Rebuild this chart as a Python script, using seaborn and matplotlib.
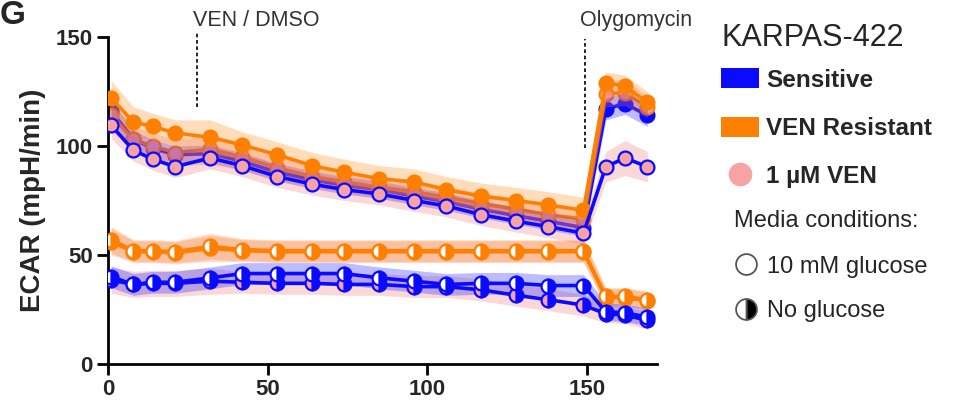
# ECAR trace, KARPAS-422 sensitive vs VEN resistant

import matplotlib
matplotlib.use("Agg")
import matplotlib.pyplot as plt
import seaborn as sns
from matplotlib.patches import Patch
from matplotlib.lines import Line2D

# Measurement times (min)
time_min = [1, 8, 14, 21, 32, 42, 53, 64, 74, 85, 96, 106, 117, 128, 138, 149, 156, 162, 169]

# 10 mM glucose
res_glc = [122, 111, 109, 106, 104, 100.5, 96, 91, 88, 85, 83.5, 80, 77, 75, 73, 70.5, 129, 127.5, 120]
res_glc_err = [8, 7, 6, 6, 8, 6, 6, 6, 6, 6, 6, 6, 6, 6, 6, 6, 5, 5, 5]
res_glc_ven = [114, 103, 100, 97, 98.5, 95, 90, 86, 83.5, 81, 79, 76.5, 73.5, 71, 68.5, 66.5, 124, 124.5, 118]
res_glc_ven_err = [7, 6, 6, 6, 7, 6, 6, 5, 5, 5, 5, 5, 5, 5, 5, 5, 6, 6, 5]
sens_glc = [116, 103, 99, 96, 96.5, 93, 88, 84.5, 82, 80, 77, 74.5, 71, 68, 65.5, 62.5, 117, 119.5, 114]
sens_glc_err = [5, 4, 4, 4, 4, 4, 4, 4, 4, 4, 4, 4, 4, 4, 4, 4, 5, 5, 5]
sens_glc_ven = [109.5, 98, 94, 90.5, 94.5, 91, 86, 82.5, 80, 78, 75, 72.5, 68.5, 65.5, 63, 60, 90.5, 94.5, 90.5]
sens_glc_ven_err = [6, 5, 5, 5, 5, 5, 5, 5, 5, 5, 5, 5, 5, 5, 5, 5, 7, 8, 7]

# No glucose
res_noglc = [57, 52, 52, 51.5, 54, 52.5, 52, 52, 52, 52, 52, 52, 52, 52, 52, 52, 31, 31, 29.5]
res_noglc_err = [6, 5, 5, 5, 6, 5, 5, 5, 5, 5, 5, 5, 5, 5, 5, 5, 4, 4, 4]
res_noglc_ven = [56, 51.5, 51.5, 51, 53, 52, 51.5, 51.5, 51.5, 51.5, 51.5, 51.5, 51.5, 51.5, 51.5, 51.5, 30.5, 30.5, 29]
res_noglc_ven_err = [6, 5, 5, 5, 6, 5, 5, 5, 5, 5, 5, 5, 5, 5, 5, 5, 4, 4, 4]
sens_noglc = [40, 36.5, 37.5, 37.5, 39.5, 41.5, 41.5, 41.5, 41.5, 39.5, 38, 36.5, 37, 37, 36, 36, 24, 23.5, 21.5]
sens_noglc_err = [5, 5, 5, 5, 5, 5, 5, 5, 5, 5, 5, 5, 5, 5, 5, 5, 4, 4, 4]
sens_noglc_ven = [38.5, 36.5, 37, 37, 38, 37.5, 37, 37, 36.5, 36.5, 35.5, 35.5, 34, 31.5, 29.5, 27, 23, 22.5, 20]
sens_noglc_ven_err = [6, 6, 6, 6, 6, 5, 5, 5, 5, 5, 5, 5, 5, 5, 5, 5, 4, 4, 4]

# Injections
inject_times = [28, 149.5]
inject_labels = ["VEN / DMSO", "Olygomycin"]

cell_labels = ["Sensitive", "VEN Resistant", "1 µM VEN"]
media_labels = ["10 mM glucose", "No glucose"]

BLUE = "#0a0aff"
ORANGE = "#ff8000"
PINK = "#f7a3a3"
VEN_BAND = "#f07070"

sns.set_theme(style="ticks")
plt.rcParams['font.family'] = ['Liberation Sans', 'DejaVu Sans']

fig = plt.figure(figsize=(9.58, 4.09), dpi=100)
ax = fig.add_axes([0.1127, 0.110, 0.573, 0.7995])

# (values, err, cell colour, VEN treated, glucose, line zorder)
series = [
    (res_noglc_ven, res_noglc_ven_err, ORANGE, True, False, 3),
    (res_noglc, res_noglc_err, ORANGE, False, False, 3.1),
    (sens_noglc_ven, sens_noglc_ven_err, BLUE, True, False, 3.2),
    (sens_noglc, sens_noglc_err, BLUE, False, False, 3.3),
    (sens_glc, sens_glc_err, BLUE, False, True, 1.5),
    (res_glc_ven, res_glc_ven_err, ORANGE, True, True, 1.6),
    (res_glc, res_glc_err, ORANGE, False, True, 3.4),
    (sens_glc_ven, sens_glc_ven_err, BLUE, True, True, 3.5),
]

for vals, err, col, ven, glc, z in series:
    lo = [v - e for v, e in zip(vals, err)]
    hi = [v + e for v, e in zip(vals, err)]
    band = VEN_BAND if ven else col
    ax.fill_between(time_min, lo, hi, color=band, alpha=0.27, lw=0, zorder=2)

for vals, err, col, ven, glc, z in series:
    face = PINK if ven else col
    if glc:
        sns.lineplot(x=time_min, y=vals, ax=ax, color=col, lw=2.6, marker='o',
                     markersize=10, markerfacecolor=face, markeredgecolor=col,
                     markeredgewidth=1.6, errorbar=None, zorder=z)
    else:
        sns.lineplot(x=time_min, y=vals, ax=ax, color=col, lw=2.6, marker='o',
                     markersize=10, fillstyle='right', markerfacecolor=col,
                     markerfacecoloralt=PINK if ven else 'white', markeredgecolor=col,
                     markeredgewidth=1.6, errorbar=None, zorder=z)

# Injection markers
line_spans = [(118, 152), (99, 149)]
for t, lab, (y0, y1) in zip(inject_times, inject_labels, line_spans):
    ax.plot([t, t], [y0, y1], color='black', lw=1.2, ls=(0, (2.2, 1.6)), clip_on=False, zorder=5)
    ax.text(t - 1.5, 157.5, lab, fontsize=15.5, color='#333333', ha='left', va='center', clip_on=False)

ax.set_xlim(0, 172)
ax.set_ylim(0, 150)
ax.set_xticks([0, 50, 100, 150])
ax.set_yticks([0, 50, 100, 150])
ax.set_xlabel('')
ax.set_ylabel('ECAR (mpH/min)', fontsize=20, fontweight='bold', labelpad=7)
sns.despine(ax=ax, top=True, right=True)
for s in ['left', 'bottom']:
    ax.spines[s].set_linewidth(2)
    ax.spines[s].set_color('black')
ax.tick_params(direction='out', length=8, width=2, color='black', labelsize=16, pad=3)
for lab in ax.get_xticklabels() + ax.get_yticklabels():
    lab.set_fontweight('bold')

# Panel letter
fig.text(0.0, 1.0, 'G', fontsize=24, fontweight='bold', ha='left', va='top')

# Legends
h1 = [Patch(facecolor=BLUE, edgecolor='none'),
      Patch(facecolor=ORANGE, edgecolor='none'),
      Line2D([], [], ls='none', marker='o', markersize=17, markerfacecolor=PINK, markeredgecolor='none')]
leg1 = fig.legend(h1, cell_labels, loc='upper left', bbox_to_anchor=(721 / 958, 1 - 23 / 409),
                  frameon=False, title='KARPAS-422', title_fontsize=22,
                  prop={'size': 17.5, 'weight': 'bold'}, handlelength=1.55, handleheight=0.9,
                  handletextpad=0.3, labelspacing=1.02, borderaxespad=0, borderpad=0, alignment='left')
leg1._legend_box.sep = 11

h2 = [Line2D([], [], ls='none', marker='o', markersize=15, markerfacecolor='white',
             markeredgecolor='#555555', markeredgewidth=1.3),
      Line2D([], [], ls='none', marker='o', markersize=15, fillstyle='right', markerfacecolor='black',
             markerfacecoloralt='white', markeredgecolor='#555555', markeredgewidth=1.3)]
leg2 = fig.legend(h2, media_labels, loc='upper left', bbox_to_anchor=(734 / 958, 1 - 210 / 409),
                  frameon=False, title='Media conditions:', title_fontsize=17,
                  prop={'size': 17}, handlelength=1.0, handletextpad=0.4, labelspacing=0.95,
                  borderaxespad=0, borderpad=0, alignment='left')
leg2._legend_box.sep = 17

plt.savefig('out.png', dpi=100)
plt.close()
